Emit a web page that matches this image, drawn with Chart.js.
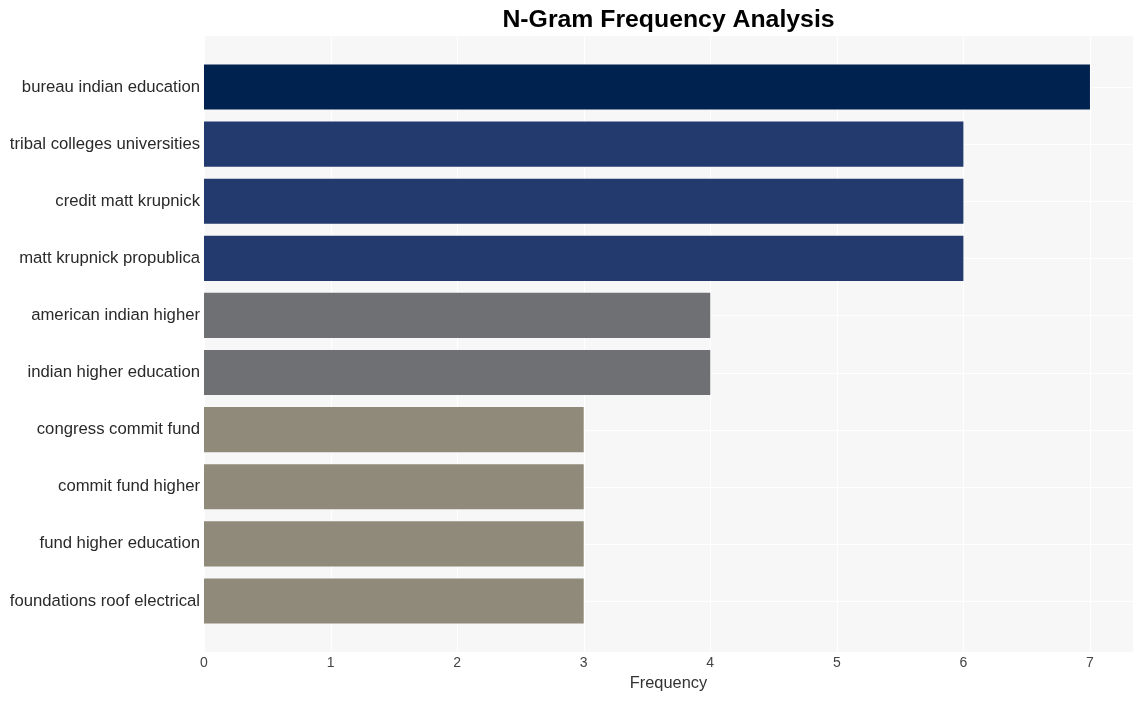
<!DOCTYPE html>
<html>
<head>
<meta charset="utf-8">
<script src="https://cdn.jsdelivr.net/npm/chart.js@4/dist/chart.umd.min.js"></script>
<style>
html,body{margin:0;padding:0;background:#fff;}
#wrap{width:1144px;height:701px;}
</style>
</head>
<body>
<div id="wrap"><canvas id="c" width="1144" height="701"></canvas></div>
<script>
const categories = [
  "bureau indian education",
  "tribal colleges universities",
  "credit matt krupnick",
  "matt krupnick propublica",
  "american indian higher",
  "indian higher education",
  "congress commit fund",
  "commit fund higher",
  "fund higher education",
  "foundations roof electrical"
];
const frequencies = [7, 6, 6, 6, 4, 4, 3, 3, 3, 3];
const barColors = ["#00224e", "#233a6e", "#233a6e", "#233a6e", "#6f7073", "#6f7073", "#8f8a79", "#8f8a79", "#8f8a79", "#8f8a79"];
const xTicks = [0, 1, 2, 3, 4, 5, 6, 7];

const FONT = "'Liberation Sans', Arial, sans-serif";

const bgPlugin = {
  id: 'bgPlugin',
  beforeDatasetsDraw(chart) {
    const {ctx, chartArea, scales} = chart;
    const band = (chartArea.bottom - chartArea.top) / categories.length;
    const pad = band * 0.395;
    const top = chartArea.top - pad, bottom = chartArea.bottom + pad;
    ctx.save();
    ctx.fillStyle = '#f7f7f7';
    ctx.fillRect(chartArea.left, top, chartArea.right - chartArea.left, bottom - top);
    ctx.strokeStyle = '#ffffff';
    ctx.lineWidth = 1;
    xTicks.forEach(v => {
      const x = Math.round(scales.x.getPixelForValue(v)) + 0.5;
      ctx.beginPath(); ctx.moveTo(x, top); ctx.lineTo(x, bottom); ctx.stroke();
    });
    categories.forEach((c, i) => {
      const y = Math.round(scales.y.getPixelForValue(i)) + 0.5;
      ctx.beginPath(); ctx.moveTo(chartArea.left, y); ctx.lineTo(chartArea.right, y); ctx.stroke();
    });
    ctx.restore();
  }
};

new Chart(document.getElementById('c'), {
  type: 'bar',
  data: {
    labels: categories,
    datasets: [{
      data: frequencies,
      backgroundColor: barColors,
      borderWidth: 0,
      barPercentage: 0.79,
      categoryPercentage: 1.0
    }]
  },
  options: {
    indexAxis: 'y',
    responsive: false,
    animation: false,
    devicePixelRatio: 1,
    layout: { padding: { left: 0, right: 11, top: 0, bottom: 8.1 } },
    plugins: {
      legend: { display: false },
      tooltip: { enabled: false },
      title: {
        display: true,
        fullSize: false,
        text: 'N-Gram Frequency Analysis',
        color: '#000',
        font: { family: FONT, size: 24.8, weight: 'bold' },
        padding: { top: 5.5, bottom: 23.2 },
        align: 'center'
      }
    },
    scales: {
      x: {
        type: 'linear',
        min: 0,
        max: 7.34,
        afterBuildTicks(scale) { scale.ticks = xTicks.map(v => ({ value: v })); },
        afterFit(scale) { scale.height = 63.4; },
        grid: { display: false, drawTicks: false, tickLength: 0 },
        border: { display: false },
        ticks: {
          padding: 25,
          color: '#444',
          font: { family: FONT, size: 14 },
          maxRotation: 0
        },
        title: {
          display: true,
          text: 'Frequency',
          color: '#333',
          font: { family: FONT, size: 16.4 },
          padding: { top: 3.6, bottom: 0 }
        }
      },
      y: {
        type: 'category',
        offset: true,
        afterFit(scale) { scale.width = 204; },
        grid: { display: false, drawTicks: false, tickLength: 0 },
        border: { display: false },
        ticks: {
          padding: 4,
          color: '#2a2a2a',
          font: { family: FONT, size: 16.7 },
          autoSkip: false
        }
      }
    }
  },
  plugins: [bgPlugin]
});
</script>
</body>
</html>
